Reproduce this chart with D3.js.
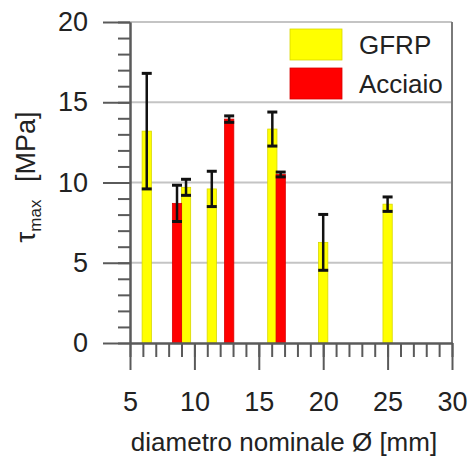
<!DOCTYPE html>
<html lang="it">
  <head>
    <meta charset="UTF-8">
    <script src="https://d3js.org/d3.v7.min.js"></script>
    <style>
      html, body {
        margin: 0;
        padding: 0;
        background: #fff;
      }
      svg text {
        font-family: "Liberation Sans", Arial, sans-serif;
        fill: #222;
      }
    </style>
  </head>

  <body>
    <svg id="graph" width="469" height="457"></svg>

    <script>
      //
      // Values.
      //
      let seriesNames = ['GFRP', 'Acciaio'];
      let seriesColors = ['#ffff00', '#ff0000'];

      let gfrpDiam = [6.3, 9.35, 11.35, 16.05, 20.0, 25.0];
      let gfrpTau = [13.2, 9.7, 9.6, 13.33, 6.27, 8.65];
      let gfrpSd = [3.6, 0.5, 1.1, 1.06, 1.74, 0.45];

      let steelDiam = [8.65, 12.7, 16.7];
      let steelTau = [8.7, 13.95, 10.5];
      let steelSd = [1.13, 0.2, 0.15];

      let xTicks = [5, 10, 15, 20, 25, 30];
      let yTicks = [0, 5, 10, 15, 20];

      let plotLeft = 130, plotRight = 452, plotTop = 22, plotBottom = 343;
      let barWidth = 0.72;

      let x = d3.scaleLinear().domain([5, 30]).range([plotLeft, plotRight]);
      let y = d3.scaleLinear().domain([0, 20]).range([plotBottom, plotTop]);

      let graph = d3.select('#graph');

      //
      // Gridlines.
      //
      graph.append('g')
        .selectAll('line')
        .data(yTicks.filter(d => d > 0))
        .enter()
        .append('line')
        .attr('x1', plotLeft)
        .attr('x2', plotRight)
        .attr('y1', d => y(d))
        .attr('y2', d => y(d))
        .attr('stroke', '#c4c4c4')
        .attr('stroke-width', 2);

      //
      // Bars.
      //
      let series = [
        gfrpDiam.map((d, i) => ({ x: d, v: gfrpTau[i], sd: gfrpSd[i], s: 0 })),
        steelDiam.map((d, i) => ({ x: d, v: steelTau[i], sd: steelSd[i], s: 1 }))
      ];
      let all = series[0].concat(series[1]);

      graph.append('g')
        .selectAll('rect')
        .data(all)
        .enter()
        .append('rect')
        .attr('x', d => x(d.x - barWidth / 2))
        .attr('width', x(barWidth) - x(0))
        .attr('y', d => y(d.v))
        .attr('height', d => y(0) - y(d.v))
        .attr('fill', d => seriesColors[d.s])
        .attr('stroke', d => d.s === 0 ? '#d8d800' : '#d80000')
        .attr('stroke-width', 0.8);

      //
      // Error bars.
      //
      let err = graph.append('g')
        .selectAll('g')
        .data(all)
        .enter()
        .append('g')
        .attr('stroke', '#111');

      err.append('line')
        .attr('x1', d => x(d.x))
        .attr('x2', d => x(d.x))
        .attr('y1', d => y(d.v + d.sd))
        .attr('y2', d => y(d.v - d.sd))
        .attr('stroke-width', 2.5);

      [1, -1].forEach(sign => {
        err.append('line')
          .attr('x1', d => x(d.x) - 5)
          .attr('x2', d => x(d.x) + 5)
          .attr('y1', d => y(d.v + sign * d.sd))
          .attr('y2', d => y(d.v + sign * d.sd))
          .attr('stroke-width', 3);
      });

      //
      // Frame on the right.
      //
      graph.append('line')
        .attr('x1', plotRight)
        .attr('x2', plotRight)
        .attr('y1', plotTop)
        .attr('y2', plotBottom)
        .attr('stroke', '#7a7a7a')
        .attr('stroke-width', 2);

      //
      // Axes: minor ticks every unit, major ticks with labels.
      //
      function styleAxis(g) {
        g.select('.domain').attr('stroke', '#5a5a5a').attr('stroke-width', 2);
        g.selectAll('.tick line').attr('stroke', '#5a5a5a').attr('stroke-width', 2);
        g.selectAll('.tick text')
          .attr('fill', '#222')
          .style('font-size', '27px')
          .style('font-family', '"Liberation Sans", Arial, sans-serif');
      }

      graph.append('g')
        .attr('transform', `translate(0,${plotBottom})`)
        .call(d3.axisBottom(x).ticks(25).tickSize(14).tickSizeOuter(0).tickFormat(''))
        .call(styleAxis);

      graph.append('g')
        .attr('transform', `translate(0,${plotBottom})`)
        .call(d3.axisBottom(x).tickValues(xTicks).tickSize(27).tickSizeOuter(0).tickPadding(22).tickFormat(d3.format('d')))
        .call(styleAxis);

      graph.append('g')
        .attr('transform', `translate(${plotLeft},0)`)
        .call(d3.axisLeft(y).ticks(20).tickSize(12).tickSizeOuter(0).tickFormat(''))
        .call(styleAxis);

      graph.append('g')
        .attr('transform', `translate(${plotLeft},0)`)
        .call(d3.axisLeft(y).tickValues(yTicks).tickSize(27).tickSizeOuter(0).tickPadding(15).tickFormat(d3.format('d')))
        .call(styleAxis);

      //
      // Axis titles.
      //
      graph.append('text')
        .attr('x', (plotLeft + plotRight) / 2 - 7)
        .attr('y', 451)
        .attr('text-anchor', 'middle')
        .style('font-size', '26px')
        .text('diametro nominale Ø [mm]');

      let ytitle = graph.append('text')
        .attr('transform', 'translate(35,177) rotate(-90)')
        .attr('text-anchor', 'middle')
        .style('font-size', '27px');
      ytitle.append('tspan').text('τ');
      ytitle.append('tspan').attr('dy', 6).style('font-size', '17px').text('max');
      ytitle.append('tspan').attr('dy', -6).attr('dx', 10).text(' [MPa]');

      //
      // Legend.
      //
      let legend = graph.append('g')
        .selectAll('g')
        .data(seriesNames)
        .enter()
        .append('g')
        .attr('transform', (d, i) => `translate(290,${29 + i * 39})`);

      legend.append('rect')
        .attr('width', 52)
        .attr('height', 31)
        .attr('fill', (d, i) => seriesColors[i])
        .attr('stroke', (d, i) => i === 0 ? '#d8d800' : '#d80000')
        .attr('stroke-width', 0.8);

      legend.append('text')
        .attr('x', 69)
        .attr('y', 16)
        .attr('dy', '0.35em')
        .style('font-size', '26px')
        .text(d => d);
    </script>
  </body>
</html>
